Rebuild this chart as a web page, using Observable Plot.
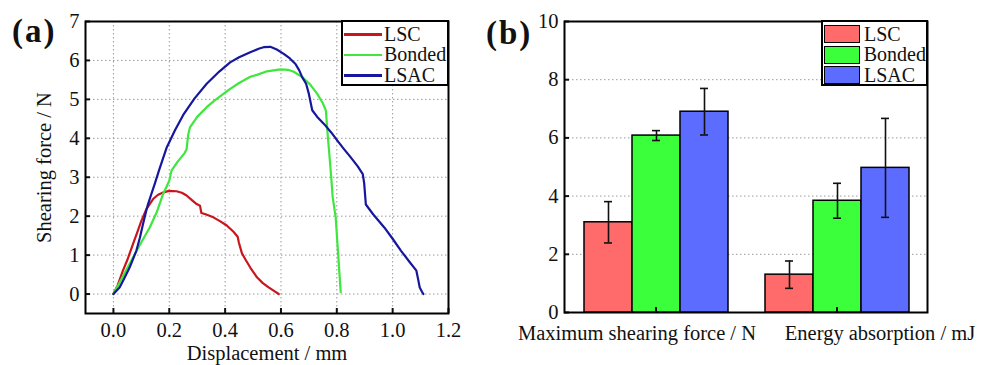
<!DOCTYPE html>
<html>
<head>
<meta charset="utf-8">
<script src="https://cdn.jsdelivr.net/npm/d3@7"></script>
<script src="https://cdn.jsdelivr.net/npm/@observablehq/plot@0.6"></script>
<style>
  body { margin: 0; background: #fff; }
  #wrap { position: relative; width: 989px; height: 365px; overflow: hidden; background: #fff;
          font-family: "Liberation Serif", "Times New Roman", serif; color: #111; }
  #pa { position: absolute; left: 0; top: 0; }
  #pbBase, #pb { position: absolute; left: 489px; top: 0; }
  .panel { position: absolute; font-weight: bold; font-size: 33px; line-height: 33px; letter-spacing: 2px; }
  .legend { position: absolute; background: #fff; border: 2px solid #000; box-sizing: border-box;
            font-size: 20px; z-index: 5; }
  .row { display: flex; align-items: center; height: 20.5px; }
  .lineSw { width: 38px; height: 2.5px; margin: 0 2px 0 1px; }
  .boxSw { width: 36px; height: 18px; border: 1.5px solid #000; box-sizing: border-box; margin: 0 4px 0 1px; }
</style>
</head>
<body>
<div id="wrap">
  <div id="pa"></div>
  <div id="pbBase"></div>
  <div id="pb"></div>
  <div class="panel" style="left:12px;top:15px;">(a)</div>
  <div class="panel" style="left:486px;top:17px;">(b)</div>
  <div id="legA" class="legend" style="left:341px;top:20px;width:108px;height:66px;padding-top:2px;"></div>
  <div id="legB" class="legend" style="left:821px;top:20px;width:107px;height:66px;padding-top:2px;"></div>
</div>
<script>
const FONT = '"Liberation Serif", "Times New Roman", serif';

// ---------- shared ----------
const seriesNames = ["LSC", "Bonded", "LSAC"];
const lineColors = ["#c8161c", "#3ee63e", "#16169e"];
const barColors = ["#ff6a6a", "#3aff3a", "#5c6cff"];

// ---------- panel (a): force-displacement curves ----------
const xTicksA = [0, 0.2, 0.4, 0.6, 0.8, 1.0, 1.2];
const yTicksA = [0, 1, 2, 3, 4, 5, 6, 7];

const lscDisp  = [0, 0.015, 0.034, 0.05, 0.07, 0.085, 0.1, 0.118, 0.142, 0.16, 0.178, 0.2, 0.226, 0.245, 0.262, 0.28, 0.298, 0.31, 0.315, 0.33, 0.358, 0.38, 0.406, 0.43, 0.445, 0.449, 0.46, 0.475, 0.49, 0.514, 0.535, 0.556, 0.575, 0.592];
const lscForce = [0, 0.22, 0.6, 0.88, 1.28, 1.58, 1.88, 2.18, 2.44, 2.55, 2.61, 2.65, 2.64, 2.6, 2.53, 2.42, 2.31, 2.27, 2.08, 2.05, 1.97, 1.88, 1.76, 1.6, 1.47, 1.33, 1.05, 0.86, 0.68, 0.43, 0.28, 0.17, 0.08, 0.0];

const bondedDisp  = [0, 0.035, 0.07, 0.1, 0.13, 0.155, 0.178, 0.2, 0.208, 0.23, 0.255, 0.262, 0.268, 0.274, 0.3, 0.334, 0.364, 0.394, 0.418, 0.45, 0.49, 0.514, 0.55, 0.598, 0.625, 0.646, 0.676, 0.705, 0.73, 0.75, 0.761, 0.766, 0.772, 0.78, 0.785, 0.796, 0.805, 0.814];
const bondedForce = [0, 0.47, 0.94, 1.33, 1.71, 2.1, 2.57, 2.91, 3.17, 3.4, 3.62, 3.72, 4.1, 4.28, 4.55, 4.8, 4.98, 5.14, 5.27, 5.42, 5.58, 5.63, 5.72, 5.77, 5.76, 5.71, 5.57, 5.38, 5.14, 4.9, 4.71, 4.2, 3.7, 3.0, 2.5, 1.97, 1.0, 0.05];

const lsacDisp  = [0, 0.022, 0.04, 0.058, 0.082, 0.095, 0.106, 0.118, 0.124, 0.135, 0.148, 0.163, 0.19, 0.22, 0.25, 0.29, 0.334, 0.38, 0.418, 0.45, 0.49, 0.52, 0.538, 0.562, 0.585, 0.61, 0.632, 0.652, 0.665, 0.676, 0.69, 0.7, 0.712, 0.73, 0.754, 0.78, 0.802, 0.825, 0.85, 0.875, 0.893, 0.898, 0.904, 0.93, 0.97, 1.0, 1.03, 1.06, 1.085, 1.092, 1.097, 1.105, 1.11];
const lsacForce = [0, 0.17, 0.42, 0.68, 1.11, 1.45, 1.8, 2.15, 2.31, 2.55, 2.83, 3.17, 3.75, 4.2, 4.6, 5.02, 5.4, 5.72, 5.95, 6.08, 6.21, 6.3, 6.34, 6.35, 6.28, 6.17, 6.05, 5.91, 5.75, 5.57, 5.4, 5.14, 4.72, 4.55, 4.37, 4.15, 3.94, 3.73, 3.51, 3.28, 3.08, 2.85, 2.3, 2.05, 1.71, 1.42, 1.11, 0.83, 0.6, 0.35, 0.17, 0.06, 0.0];

// ---------- panel (b): bar chart with error bars ----------
const categories = ["Maximum shearing force / N", "Energy absorption / mJ"];
const yTicksB = [0, 2, 4, 6, 8, 10];
const lscMean    = [3.10, 1.30];
const lscErr     = [0.71, 0.47];
const bondedMean = [6.08, 3.84];
const bondedErr  = [0.17, 0.60];
const lsacMean   = [6.90, 4.97];
const lsacErr    = [0.80, 1.70];

// ---------- build tables ----------
function seriesRows(name, xs, ys) { return xs.map((d, i) => ({series: name, d, f: ys[i]})); }
const lineRows = [
  ...seriesRows("LSC", lscDisp, lscForce),
  ...seriesRows("Bonded", bondedDisp, bondedForce),
  ...seriesRows("LSAC", lsacDisp, lsacForce)
];
const means = [lscMean, bondedMean, lsacMean];
const errs = [lscErr, bondedErr, lsacErr];
const barRows = categories.flatMap((c, i) => seriesNames.map((s, j) => ({
  category: c, series: s, mean: means[j][i], err: errs[j][i]
})));

const gridStyle = {stroke: "#9a9a9a", strokeOpacity: 1, strokeDasharray: "1.5 2.5", strokeWidth: 1};
const baseStyle = {fontFamily: FONT, fontSize: "20.5px", color: "#111", background: "transparent", overflow: "visible"};
const TICK = 5;

const chartA = Plot.plot({
  width: 470, height: 365,
  marginLeft: 85, marginRight: 22, marginTop: 21, marginBottom: 52,
  style: baseStyle,
  x: {domain: [-0.1, 1.2]},
  y: {domain: [-0.5, 7]},
  color: {domain: seriesNames, range: lineColors},
  marks: [
    Plot.gridX(xTicksA, gridStyle),
    Plot.gridY(yTicksA, gridStyle),
    Plot.line(lineRows, {x: "d", y: "f", z: "series", stroke: "series", strokeWidth: 2.2}),
    Plot.axisX(xTicksA, {tickSize: 0, tickPadding: 9, tickFormat: d3.format(".1f"),
      label: "Displacement / mm", labelAnchor: "center", labelOffset: 46, labelArrow: "none"}),
    Plot.axisX(xTicksA, {tickSize: TICK, dy: -TICK, tickFormat: () => "", label: null, strokeWidth: 2}),
    Plot.axisY(yTicksA, {tickSize: 0, tickPadding: 6,
      label: "Shearing force / N", labelAnchor: "center", labelOffset: 49, labelArrow: "none"}),
    Plot.axisY(yTicksA, {tickSize: TICK, dx: TICK, tickFormat: () => "", label: null, strokeWidth: 2}),
    Plot.frame({stroke: "#000", strokeWidth: 2})
  ]
});
document.getElementById("pa").append(chartA);

const dimsB = {width: 500, height: 365, marginLeft: 75, marginRight: 62, marginTop: 21, marginBottom: 53};

// base layer of (b): y scale, grid, axis, frame
const chartBBase = Plot.plot({
  ...dimsB,
  style: baseStyle,
  x: {axis: null},
  y: {domain: [0, 10]},
  marks: [
    Plot.gridY(yTicksB.slice(1, -1), gridStyle),
    Plot.axisY(yTicksB, {tickSize: 0, tickPadding: 6, label: null}),
    Plot.axisY(yTicksB, {tickSize: TICK, dx: TICK, tickFormat: () => "", label: null, strokeWidth: 2}),
    Plot.frame({stroke: "#000", strokeWidth: 2})
  ]
});
document.getElementById("pbBase").append(chartBBase);

// bars layer of (b), faceted by category
const catLabel = (i, dx) => Plot.text([categories[i]], {
  fx: d => d, text: d => d, frameAnchor: "bottom", lineAnchor: "middle", textAnchor: "middle",
  dy: 21, dx, fill: "#111", fontSize: 20.5
});
const chartB = Plot.plot({
  ...dimsB,
  style: baseStyle,
  fx: {domain: categories, paddingInner: 0.2, paddingOuter: 0.1, label: null, axis: null},
  x: {domain: seriesNames, padding: 0, axis: null},
  y: {domain: [0, 10], axis: null},
  color: {domain: seriesNames, range: barColors},
  marks: [
    Plot.barY(barRows, {fx: "category", x: "series", y: "mean", fill: "series", stroke: "#000", strokeWidth: 1.5}),
    Plot.ruleX(barRows, {fx: "category", x: "series", y1: d => d.mean - d.err, y2: d => d.mean + d.err, stroke: "#111", strokeWidth: 1.6}),
    Plot.tickY(barRows, {fx: "category", x: "series", y: d => d.mean - d.err, insetLeft: 20, insetRight: 20, stroke: "#111", strokeWidth: 1.6}),
    Plot.tickY(barRows, {fx: "category", x: "series", y: d => d.mean + d.err, insetLeft: 20, insetRight: 20, stroke: "#111", strokeWidth: 1.6}),
    Plot.axisFx({anchor: "bottom", tickSize: TICK, dy: -TICK, tickFormat: () => "", label: null, strokeWidth: 2}),
    catLabel(0, -19),
    catLabel(1, 43)
  ]
});
document.getElementById("pb").append(chartB);

// ---------- legends ----------
const legA = document.getElementById("legA");
seriesNames.forEach((s, i) => {
  const r = document.createElement("div"); r.className = "row";
  r.innerHTML = `<span class="lineSw" style="background:${lineColors[i]}"></span><span>${s}</span>`;
  legA.append(r);
});
const legB = document.getElementById("legB");
seriesNames.forEach((s, i) => {
  const r = document.createElement("div"); r.className = "row";
  r.innerHTML = `<span class="boxSw" style="background:${barColors[i]}"></span><span>${s}</span>`;
  legB.append(r);
});
</script>
</body>
</html>
